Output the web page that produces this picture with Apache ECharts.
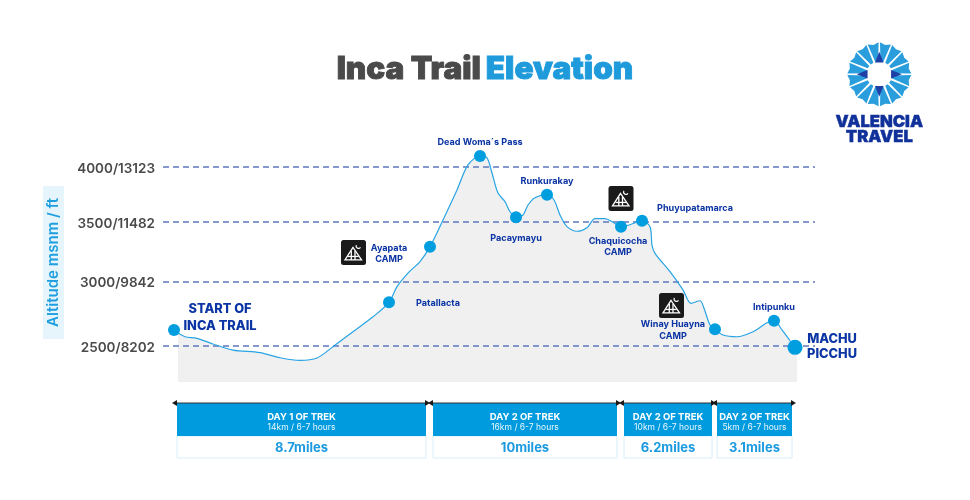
<!DOCTYPE html>
<html><head><meta charset="utf-8">
<style>html,body{margin:0;padding:0;background:#fff}#c{width:970px;height:500px}</style>
<script src="https://cdn.jsdelivr.net/npm/echarts@6/dist/echarts.min.js"></script>
</head><body><div id="c"></div>
<script>
// ---------- data ----------
const trailX = [0,4,11,23,39,59,86,106,126,143,159,179,199,215,223,234,246,256,269,283,294,306,313,318,324,331,336,342,349,354,361,373,380,386,393,403,413,421,431,439,447,456,468,476,478,481,496,509,517,526,530,536,541,549,563,579,593,600,608,616,621,623];
const trailAlt = [2620,2597,2569,2557,2515,2470,2451,2414,2395,2412,2495,2607,2721,2834,2958,3069,3163,3289,3519,3788,4019,4104,4085,3944,3760,3682,3592,3543,3563,3652,3718,3745,3697,3563,3461,3421,3452,3531,3531,3499,3461,3478,3513,3461,3303,3233,3080,2932,2826,2846,2787,2658,2625,2582,2569,2607,2675,2691,2620,2539,2490,2480];
const stopNames = ['START OF\nINCA TRAIL','Patallacta','Ayapata\nCAMP','Dead Woma´s Pass','Pacaymayu','Runkurakay','Chaquicocha\nCAMP','Phuyupatamarca','Winay Huayna\nCAMP','Intipunku','MACHU\nPICCHU'];
const stopX = [0,215,256,306,342,373,447,468,541,600,621];
const stopAlt = [2620,2834,3289,4104,3543,3745,3461,3513,2625,2691,2490];
const campX = [179.5,447,497.5];
const campAlt = [3240,3711,2809];
const tickAlt = [2500,3000,3500,4000];
const tickFt = [8202,9842,11482,13123];
const dayStart = [3,259,450,543];
const dayEnd = [252,443,538,618];
const dayTitle = ['DAY 1 OF TREK','DAY 2 OF TREK','DAY 2 OF TREK','DAY 2 OF TREK'];
const dayDetail = ['14km / 6-7 hours','16km / 6-7 hours','10km / 6-7 hours','5km / 6-7 hours'];
const dayMiles = ['8.7miles','10miles','6.2miles','3.1miles'];

// ---------- layout / style ----------
const labelOffsets = [[46,-12.5],[49,1],[-41,7],[0,-14],[0,20.5],[0,-13],[-3,20],[53,-12],[-42,1],[0,-13],[37,-1]];
const FONT = 'Inter';
const NAVY = '#0b34a4', SKY = '#009ddf';
const toAxis = a => Math.sqrt(a);   // the picture's altitude scale tightens towards the top
const trail = trailX.map((x,i)=>[x,toAxis(trailAlt[i])]);
const visibleLine = trail.slice(0,-1);
const areaData = trail.filter(p=>p[0]>=4);
const bigStyles = {0:1,10:1};

const stops = stopNames.map((n,i)=>{
  const big = bigStyles[i];
  return {
    name:n, value:[stopX[i],toAxis(stopAlt[i])],
    symbolSize: i===10?15:12,
    label:{show:true,position:'inside',offset:labelOffsets[i],formatter:n,align:'center',verticalAlign:'middle',
      color:NAVY,fontFamily:FONT,fontWeight:big?800:700,fontSize:big?12.8:9.1,lineHeight:big?(i===0?17:15):11.5}
  };
});

// logo
function logo(){
  const cx=879.3, cy=74.3, els=[];
  const pt=(r,deg)=>{const a=deg*Math.PI/180;return [cx+r*Math.sin(a),cy-r*Math.cos(a)];};
  for(let k=0;k<16;k++){
    const m=11.25+22.5*k;
    els.push({type:'polygon',shape:{points:[pt(13,m-6.5),pt(13,m+6.5),pt(32,m+10),pt(30,m),pt(32,m-10)]},style:{fill:'#2a9ddc'}});
  }
  for(let k=0;k<4;k++){
    const m=90*k;
    els.push({type:'polygon',shape:{points:[pt(12.5,m-20),pt(12.5,m+20),pt(22.5,m)]},style:{fill:'#1f3fa6'}});
  }
  const t={fill:'#10309a',stroke:'#10309a',lineWidth:0.4,font:'900 16.6px Inter',align:'center',verticalAlign:'middle'};
  els.push({type:'text',style:Object.assign({x:cx,y:122,text:'VALENCIA'},t)});
  els.push({type:'text',style:Object.assign({x:cx,y:136.5,text:'TRAVEL'},t)});
  return els;
}

const option = {
  animation:false,
  backgroundColor:'#fff',
  title:{
    text:'{a|Inca Trail} {b|Elevation}',left:'center',top:54,padding:0,
    textStyle:{rich:{
      a:{fontFamily:FONT,fontWeight:900,fontSize:31.5,color:'#4a4a4a',textBorderColor:'#4a4a4a',textBorderWidth:0.9},
      b:{fontFamily:FONT,fontWeight:900,fontSize:31.5,color:'#1f9bdc',textBorderColor:'#1f9bdc',textBorderWidth:0.9}
    }}
  },
  graphic:logo(),
  grid:[
    {left:163,right:155,top:143,bottom:118},
    {left:163,right:155,top:403,height:55}
  ],
  xAxis:[
    {type:'value',gridIndex:0,min:-11,max:641,show:false},
    {type:'value',gridIndex:1,min:-11,max:641,show:false}
  ],
  yAxis:[
    {type:'value',gridIndex:0,min:47.336,max:65.02,z:1.5,
      name:'Altitude msnm / ft',nameLocation:'middle',nameGap:99,nameRotate:90,
      nameTextStyle:{color:'#1f9fe0',fontFamily:FONT,fontWeight:600,fontSize:15,backgroundColor:'#e6f4fb',padding:[3,12,3,12]},
      axisLine:{show:false},
      axisTick:{show:false,customValues:tickAlt.map(toAxis)},
      axisLabel:{customValues:tickAlt.map(toAxis),margin:8,color:'#4a4a4a',fontFamily:FONT,fontWeight:600,fontSize:13.5,verticalAlign:'top',lineHeight:3,
        formatter:v=>{const a=Math.round(v*v);return a+'/'+tickFt[tickAlt.indexOf(a)];}},
      splitLine:{show:true,lineStyle:{color:'#5d78bf',type:[6,4],width:1.5}}
    },
    {type:'value',gridIndex:1,min:0,max:1,inverse:true,show:false}
  ],
  series:[
    {type:'line',z:1,data:areaData,smooth:0.3,symbol:'none',lineStyle:{width:0},areaStyle:{color:'#f0f0f0',origin:'start',opacity:1},silent:true},
    {type:'line',z:3,data:visibleLine,smooth:0.3,symbol:'none',lineStyle:{color:'#27a4e4',width:1.2},silent:true},
    {type:'scatter',z:5,data:stops,itemStyle:{color:SKY,opacity:1}},
    {type:'custom',z:6,coordinateSystem:'cartesian2d',data:campX.map((x,i)=>[x,toAxis(campAlt[i])]),clip:false,
      renderItem:(p,api)=>{
        const c=api.coord([api.value(0),api.value(1)]);
        const X=c[0]-12.5,Y=c[1]-12.5;
        const s={stroke:'#fff',lineWidth:1.3,fill:null};
        return {type:'group',x:X,y:Y,children:[
          {type:'rect',shape:{x:0,y:0,width:25,height:25,r:2.5},style:{fill:'#1a1a1a'}},
          {type:'polygon',shape:{points:[[12,7.5],[4,20],[20.5,20]]},style:s},
          {type:'line',shape:{x1:10.3,y1:11,x2:10.3,y2:20},style:s},
          {type:'line',shape:{x1:14,y1:11,x2:14,y2:20},style:s},
          {type:'line',shape:{x1:7,y1:16.5,x2:17.5,y2:16.5},style:s},
          {type:'arc',shape:{cx:17.5,cy:6,r:2.4,startAngle:0.6,endAngle:3.6},style:{fill:null,stroke:'#fff',lineWidth:1.2}}
        ]};
      }},
    {type:'custom',xAxisIndex:1,yAxisIndex:1,z:6,clip:false,
      data:dayStart.map((s,i)=>[s,dayEnd[i],i]),
      renderItem:(p,api)=>{
        const i=api.value(2);
        const tl=api.coord([api.value(0),0]), br=api.coord([api.value(1),1]), mid=api.coord([api.value(0),0.6]);
        const x=tl[0],w=br[0]-tl[0],top=tl[1],m=mid[1],bot=br[1],cx=x+w/2;
        const arrow=(xa,dir)=>({type:'polygon',shape:{points:[[xa+dir*5,top],[xa,top-3],[xa,top+3]]},style:{fill:'#1a1a1a'}});
        return {type:'group',children:[
          {type:'rect',shape:{x:x,y:m,width:w,height:bot-m},style:{fill:'#fff',stroke:'#d8eefa',lineWidth:1}},
          {type:'rect',shape:{x:x,y:top,width:w,height:m-top},style:{fill:'#009bdf'}},
          {type:'line',shape:{x1:x-2,y1:top,x2:x+w+2,y2:top},style:{stroke:'#333',lineWidth:1.2}},
          arrow(x,-1),arrow(x+w-1,1),
          {type:'text',style:{x:cx,y:top+14.5,text:dayTitle[i],fill:'#fff',font:'700 9.5px Inter',align:'center',verticalAlign:'middle'}},
          {type:'text',style:{x:cx,y:top+24,text:dayDetail[i],fill:'#e8f6fd',font:'400 8.5px Inter',align:'center',verticalAlign:'middle'}},
          {type:'text',style:{x:cx,y:top+45,text:dayMiles[i],fill:'#1b9ae0',font:'700 13px Inter',align:'center',verticalAlign:'middle'}}
        ]};
      }}
  ]
};
echarts.init(document.getElementById('c'),null,{renderer:'canvas'}).setOption(option);
</script></body></html>
